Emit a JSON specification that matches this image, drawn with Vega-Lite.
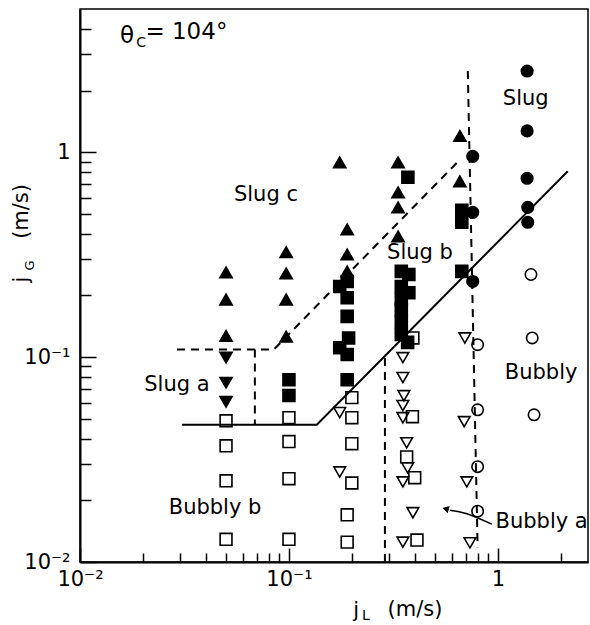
{
  "$schema": "https://vega.github.io/schema/vega-lite/v6.json",
  "width": 508,
  "height": 553,
  "autosize": {"type": "none"},
  "padding": {"left": 80, "top": 9, "right": 2, "bottom": 63},
  "background": "white",
  "datasets": {
    "pts": [
      {"jl":0.05,"jg":0.259,"t":"SC"},
      {"jl":0.05,"jg":0.191,"t":"SC"},
      {"jl":0.05,"jg":0.127,"t":"SC"},
      {"jl":0.05,"jg":0.0994,"t":"SA"},
      {"jl":0.05,"jg":0.075,"t":"SA"},
      {"jl":0.05,"jg":0.0605,"t":"SA"},
      {"jl":0.05,"jg":0.0489,"t":"BB"},
      {"jl":0.05,"jg":0.0369,"t":"BB"},
      {"jl":0.05,"jg":0.0249,"t":"BB"},
      {"jl":0.05,"jg":0.0129,"t":"BB"},
      {"jl":0.097,"jg":0.325,"t":"SC"},
      {"jl":0.097,"jg":0.256,"t":"SC"},
      {"jl":0.097,"jg":0.191,"t":"SC"},
      {"jl":0.097,"jg":0.126,"t":"SC"},
      {"jl":0.1,"jg":0.0776,"t":"SB"},
      {"jl":0.1,"jg":0.0649,"t":"SB"},
      {"jl":0.1,"jg":0.0506,"t":"BB"},
      {"jl":0.1,"jg":0.0387,"t":"BB"},
      {"jl":0.1,"jg":0.0255,"t":"BB"},
      {"jl":0.1,"jg":0.0129,"t":"BB"},
      {"jl":0.175,"jg":0.893,"t":"SC"},
      {"jl":0.19,"jg":0.42,"t":"SC"},
      {"jl":0.19,"jg":0.317,"t":"SC"},
      {"jl":0.19,"jg":0.262,"t":"SC"},
      {"jl":0.19,"jg":0.234,"t":"SB"},
      {"jl":0.175,"jg":0.221,"t":"SB"},
      {"jl":0.19,"jg":0.195,"t":"SB"},
      {"jl":0.19,"jg":0.158,"t":"SB"},
      {"jl":0.193,"jg":0.124,"t":"SB"},
      {"jl":0.175,"jg":0.111,"t":"SB"},
      {"jl":0.19,"jg":0.103,"t":"SB"},
      {"jl":0.19,"jg":0.0776,"t":"SB"},
      {"jl":0.2,"jg":0.0634,"t":"BB"},
      {"jl":0.2,"jg":0.0506,"t":"BB"},
      {"jl":0.2,"jg":0.0378,"t":"BB"},
      {"jl":0.2,"jg":0.0243,"t":"BB"},
      {"jl":0.19,"jg":0.017,"t":"BB"},
      {"jl":0.19,"jg":0.0125,"t":"BB"},
      {"jl":0.175,"jg":0.0536,"t":"BA"},
      {"jl":0.175,"jg":0.0275,"t":"BA"},
      {"jl":0.333,"jg":0.893,"t":"SC"},
      {"jl":0.333,"jg":0.637,"t":"SC"},
      {"jl":0.333,"jg":0.538,"t":"SC"},
      {"jl":0.333,"jg":0.388,"t":"SC"},
      {"jl":0.371,"jg":0.755,"t":"SB"},
      {"jl":0.345,"jg":0.262,"t":"SB"},
      {"jl":0.375,"jg":0.253,"t":"SB"},
      {"jl":0.345,"jg":0.221,"t":"SB"},
      {"jl":0.375,"jg":0.206,"t":"SB"},
      {"jl":0.345,"jg":0.191,"t":"SB"},
      {"jl":0.345,"jg":0.171,"t":"SB"},
      {"jl":0.345,"jg":0.149,"t":"SB"},
      {"jl":0.345,"jg":0.129,"t":"SB"},
      {"jl":0.37,"jg":0.118,"t":"SB"},
      {"jl":0.392,"jg":0.124,"t":"BB"},
      {"jl":0.39,"jg":0.0512,"t":"BB"},
      {"jl":0.366,"jg":0.0326,"t":"BB"},
      {"jl":0.4,"jg":0.0258,"t":"BB"},
      {"jl":0.41,"jg":0.0128,"t":"BB"},
      {"jl":0.351,"jg":0.0994,"t":"BA"},
      {"jl":0.351,"jg":0.0795,"t":"BA"},
      {"jl":0.355,"jg":0.0648,"t":"BA"},
      {"jl":0.351,"jg":0.058,"t":"BA"},
      {"jl":0.351,"jg":0.0506,"t":"BA"},
      {"jl":0.366,"jg":0.0382,"t":"BA"},
      {"jl":0.37,"jg":0.0288,"t":"BA"},
      {"jl":0.351,"jg":0.0246,"t":"BA"},
      {"jl":0.392,"jg":0.0174,"t":"BA"},
      {"jl":0.351,"jg":0.0125,"t":"BA"},
      {"jl":0.658,"jg":1.2,"t":"SC"},
      {"jl":0.658,"jg":0.721,"t":"SC"},
      {"jl":0.672,"jg":0.52,"t":"SB"},
      {"jl":0.672,"jg":0.455,"t":"SB"},
      {"jl":0.672,"jg":0.262,"t":"SB"},
      {"jl":0.758,"jg":0.955,"t":"S"},
      {"jl":0.758,"jg":0.509,"t":"S"},
      {"jl":0.758,"jg":0.234,"t":"S"},
      {"jl":0.695,"jg":0.124,"t":"BA"},
      {"jl":0.69,"jg":0.0484,"t":"BA"},
      {"jl":0.71,"jg":0.0246,"t":"BA"},
      {"jl":0.735,"jg":0.0124,"t":"BA"},
      {"jl":0.8,"jg":0.115,"t":"B"},
      {"jl":0.8,"jg":0.0553,"t":"B"},
      {"jl":0.8,"jg":0.0292,"t":"B"},
      {"jl":0.8,"jg":0.0177,"t":"B"},
      {"jl":1.38,"jg":2.49,"t":"S"},
      {"jl":1.38,"jg":1.27,"t":"S"},
      {"jl":1.38,"jg":0.746,"t":"S"},
      {"jl":1.39,"jg":0.538,"t":"S"},
      {"jl":1.39,"jg":0.455,"t":"S"},
      {"jl":1.44,"jg":0.253,"t":"B"},
      {"jl":1.46,"jg":0.124,"t":"B"},
      {"jl":1.49,"jg":0.0523,"t":"B"}
    ],
    "dashed": [
      {"seg":"A","o":1,"jl":0.0291,"jg":0.109},
      {"seg":"A","o":2,"jl":0.0847,"jg":0.109},
      {"seg":"A","o":3,"jl":0.645,"jg":0.9},
      {"seg":"B","o":1,"jl":0.0687,"jg":0.109},
      {"seg":"B","o":2,"jl":0.0687,"jg":0.0468},
      {"seg":"C","o":1,"jl":0.288,"jg":0.01},
      {"seg":"C","o":2,"jl":0.288,"jg":0.1},
      {"seg":"D","o":1,"jl":0.718,"jg":2.49},
      {"seg":"D","o":2,"jl":0.8,"jg":0.0118}
    ],
    "solid": [
      {"o":1,"jl":0.0308,"jg":0.0468},
      {"o":2,"jl":0.136,"jg":0.0468},
      {"o":3,"jl":2.16,"jg":0.807}
    ],
    "arrow": [
      {"o":1,"jl":0.935,"jg":0.0153},
      {"o":2,"jl":0.711,"jg":0.0172},
      {"o":3,"jl":0.59,"jg":0.0179}
    ],
    "arrowhead": [{"jl":0.562,"jg":0.0182}],
    "labels": [
      {"jl":0.0776,"jg":0.617,"label":"Slug c"},
      {"jl":0.424,"jg":0.321,"label":"Slug b"},
      {"jl":1.36,"jg":1.82,"label":"Slug"},
      {"jl":0.0291,"jg":0.0735,"label":"Slug a"},
      {"jl":0.0443,"jg":0.0184,"label":"Bubbly b"},
      {"jl":1.61,"jg":0.0839,"label":"Bubbly"},
      {"jl":1.62,"jg":0.0157,"label":"Bubbly a"},
      {"jl":0.2096,"jg":0.00576,"label":"j"},
      {"jl":0.401,"jg":0.00582,"label":"(m/s)"}
    ],
    "theta": [
      {"jl":0.0168,"jg":3.69,"label":"θ"},
      {"jl":0.0323,"jg":3.88,"label":"= 104°"}
    ],
    "subs": [
      {"jl":0.0196,"jg":3.40,"label":"C"},
      {"jl":0.2333,"jg":0.00545,"label":"L"}
    ],
    "ytitle": [
      {"jl":0.00528,"jg":0.239,"label":"j"},
      {"jl":0.00528,"jg":0.514,"label":"(m/s)"}
    ],
    "ysub": [
      {"jl":0.00576,"jg":0.28,"label":"G"}
    ]
  },
  "encoding": {
    "x": {
      "field": "jl", "type": "quantitative",
      "scale": {"type": "log", "domain": [0.01, 2.7], "nice": false},
      "axis": {
        "title": null,
        "values": [0.01,0.02,0.03,0.04,0.05,0.06,0.07,0.08,0.09,0.1,0.2,0.3,0.4,0.5,0.6,0.7,0.8,0.9,1,2],
        "labelExpr": "datum.value > 0.99 && datum.value < 1.01 ? '1' : (datum.value > 0.099 && datum.value < 0.101 ? '10⁻¹' : (datum.value > 0.0099 && datum.value < 0.0101 ? '10⁻²' : ''))",
        "tickSize": {"condition": {"test": "abs(log(datum.value)/LN10 - round(log(datum.value)/LN10)) < 0.001", "value": -14}, "value": -9},
        "labelPadding": 20,
        "labelOverlap": false,
        "labelFlush": false
      }
    },
    "y": {
      "field": "jg", "type": "quantitative",
      "scale": {"type": "log", "domain": [0.01, 5], "nice": false},
      "axis": {
        "title": null,
        "values": [0.01,0.02,0.03,0.04,0.05,0.06,0.07,0.08,0.09,0.1,0.2,0.3,0.4,0.5,0.6,0.7,0.8,0.9,1,2,3,4],
        "labelExpr": "datum.value > 0.99 && datum.value < 1.01 ? '1' : (datum.value > 0.099 && datum.value < 0.101 ? '10⁻¹' : (datum.value > 0.0099 && datum.value < 0.0101 ? '10⁻²' : ''))",
        "tickSize": {"condition": {"test": "abs(log(datum.value)/LN10 - round(log(datum.value)/LN10)) < 0.001", "value": -16}, "value": -11},
        "labelPadding": 26,
        "labelOverlap": false,
        "labelFlush": false
      }
    }
  },
  "layer": [
    {
      "data": {"name": "dashed"},
      "mark": {"type": "line", "color": "black", "strokeWidth": 2, "strokeDash": [8, 6]},
      "encoding": {"detail": {"field": "seg"}, "order": {"field": "o", "type": "quantitative"}}
    },
    {
      "data": {"name": "solid"},
      "mark": {"type": "line", "color": "black", "strokeWidth": 2},
      "encoding": {"order": {"field": "o", "type": "quantitative"}}
    },
    {
      "data": {"name": "arrow"},
      "mark": {"type": "line", "color": "black", "strokeWidth": 1.5, "interpolate": "natural"},
      "encoding": {"order": {"field": "o", "type": "quantitative"}}
    },
    {
      "data": {"name": "arrowhead"},
      "mark": {"type": "point", "shape": "triangle-up", "filled": true, "color": "black", "size": 55, "angle": 285, "opacity": 1}
    },
    {
      "data": {"name": "pts"},
      "mark": {"type": "point", "filled": true, "opacity": 1, "stroke": "black", "strokeWidth": 1.6},
      "encoding": {
        "shape": {"field": "t", "type": "nominal", "legend": null,
          "scale": {"domain": ["SC","SA","SB","BB","BA","S","B"], "range": ["triangle-up","triangle-down","square","square","triangle-down","circle","circle"]}},
        "fill": {"field": "t", "type": "nominal", "legend": null,
          "scale": {"domain": ["SC","SA","SB","BB","BA","S","B"], "range": ["black","black","black","transparent","transparent","black","transparent"]}},
        "size": {"field": "t", "type": "nominal", "legend": null,
          "scale": {"domain": ["SC","SA","SB","BB","BA","S","B"], "range": [150, 130, 95, 115, 130, 165, 150]}}
      }
    },
    {
      "data": {"name": "labels"},
      "mark": {"type": "text", "font": "DejaVu Sans", "fontSize": 21, "align": "center", "baseline": "middle", "color": "black"},
      "encoding": {"text": {"field": "label"}}
    },
    {
      "data": {"name": "theta"},
      "mark": {"type": "text", "font": "DejaVu Sans", "fontSize": 23, "align": "center", "baseline": "middle", "color": "black"},
      "encoding": {"text": {"field": "label"}}
    },
    {
      "data": {"name": "subs"},
      "mark": {"type": "text", "font": "DejaVu Sans", "fontSize": 14, "align": "center", "baseline": "middle", "color": "black"},
      "encoding": {"text": {"field": "label"}}
    },
    {
      "data": {"name": "ytitle"},
      "mark": {"type": "text", "font": "DejaVu Sans", "fontSize": 21, "align": "center", "baseline": "middle", "angle": 270, "color": "black"},
      "encoding": {"text": {"field": "label"}}
    },
    {
      "data": {"name": "ysub"},
      "mark": {"type": "text", "font": "DejaVu Sans", "fontSize": 13, "align": "center", "baseline": "middle", "angle": 270, "color": "black"},
      "encoding": {"text": {"field": "label"}}
    }
  ],
  "config": {
    "view": {"stroke": "black", "strokeWidth": 1.5},
    "axis": {
      "grid": false,
      "domainColor": "black",
      "domainWidth": 2,
      "tickColor": "black",
      "tickWidth": 1.5,
      "labelColor": "black",
      "labelFont": "DejaVu Sans",
      "labelFontSize": 21
    }
  }
}
